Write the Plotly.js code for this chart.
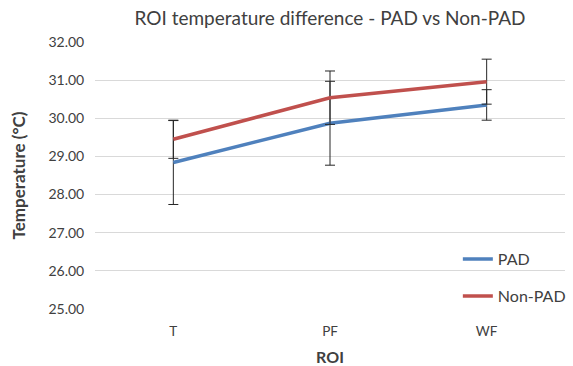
<!DOCTYPE html>
<html><head><meta charset="utf-8">
<script src="https://cdn.plot.ly/plotly-3.0.1.min.js"></script>
<style>html,body{margin:0;padding:0;background:#fff}#c{width:573px;height:366px}</style>
</head><body><div id="c"></div>
<script>
const categories = ["T", "PF", "WF"];
const padValues = [28.84, 29.87, 30.35];
const padErrors = [1.10, 1.10, 0.40];
const nonPadValues = [29.45, 30.54, 30.96];
const nonPadErrors = [0.50, 0.70, 0.59];
const yTicks = [25, 26, 27, 28, 29, 30, 31, 32];

const font = "Lato, 'Open Sans', sans-serif";
const errStyle = {type: 'data', visible: true, color: '#262626', thickness: 1, width: 5};

const traces = [
  {x: categories, y: padValues, name: 'PAD', type: 'scatter', mode: 'lines',
   line: {color: '#4F81BD', width: 3.5}, legend: 'legend',
   error_y: Object.assign({array: padErrors}, errStyle)},
  {x: categories, y: nonPadValues, name: 'Non-PAD', type: 'scatter', mode: 'lines',
   line: {color: '#C0504D', width: 3.5}, legend: 'legend2',
   error_y: Object.assign({array: nonPadErrors}, errStyle)}
];

const legStyle = {xanchor: 'left', yanchor: 'middle', bgcolor: 'rgba(0,0,0,0)',
                  font: {size: 16, color: '#404040'}, itemwidth: 30};

const layout = {
  width: 573, height: 366,
  margin: {l: 95, r: 2, t: 42, b: 57},
  paper_bgcolor: '#fff', plot_bgcolor: '#fff',
  font: {family: font, color: '#404040', size: 13},
  title: {text: 'ROI temperature difference - PAD vs Non-PAD', xref: 'paper', x: 0.5, xanchor: 'center', y: 0.95, yanchor: 'middle',
          font: {size: 19, color: '#404040', family: font}},
  xaxis: {type: 'category', range: [-0.5, 2.5], showgrid: false, zeroline: false, showline: false,
          ticks: 'outside', ticklen: 10, tickcolor: 'rgba(0,0,0,0)', tickfont: {size: 13.5, color: '#404040'},
          title: {text: '<b>ROI</b>', font: {size: 16, color: '#404040'}, standoff: 14}},
  yaxis: {range: [25, 32], tickvals: yTicks, ticktext: yTicks.map(v => v.toFixed(2)),
          showgrid: true, gridcolor: '#d9d9d9', gridwidth: 1, zeroline: false, showline: false,
          ticks: 'outside', ticklen: 7, tickcolor: 'rgba(0,0,0,0)', tickfont: {size: 14, color: '#404040'},
          title: {text: '<b>Temperature (°C)</b>', font: {size: 17, color: '#404040'}, standoff: 18}},
  legend: Object.assign({x: 0.772, y: 0.187}, legStyle),
  legend2: Object.assign({x: 0.772, y: 0.048}, legStyle),
  showlegend: true
};

Plotly.newPlot('c', traces, layout, {displayModeBar: false, staticPlot: true});
</script></body></html>
